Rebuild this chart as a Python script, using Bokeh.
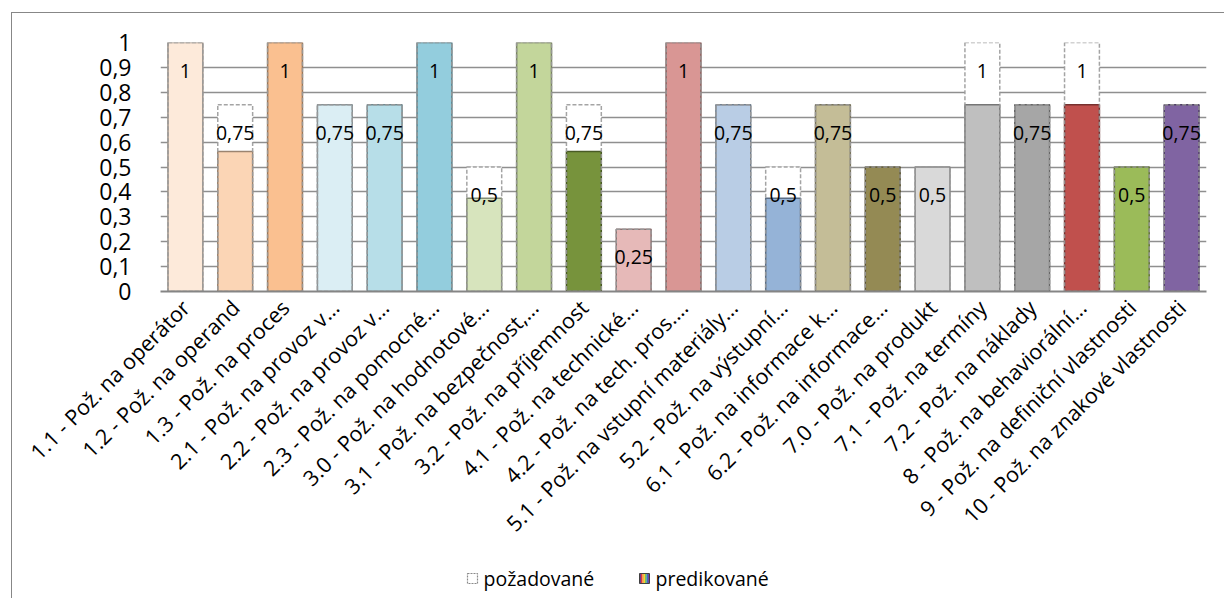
from bokeh.plotting import figure
from bokeh.layouts import column
from bokeh.models import FactorRange, Range1d, FixedTicker, ColumnDataSource
from bokeh.core.properties import value
from bokeh.embed import file_html
from bokeh.resources import INLINE

FONT = "Open Sans"

categories = [
    "1.1 - Pož. na operátor",
    "1.2 - Pož. na operand",
    "1.3 - Pož. na proces",
    "2.1 - Pož. na provoz v…",
    "2.2 - Pož. na provoz v…",
    "2.3 - Pož. na pomocné…",
    "3.0 - Pož. na hodnotové…",
    "3.1 - Pož. na bezpečnost,…",
    "3.2 - Pož. na příjemnost",
    "4.1 - Pož. na technické…",
    "4.2 - Pož. na tech. pros.…",
    "5.1 - Pož. na vstupní materiály…",
    "5.2 - Pož. na výstupní…",
    "6.1 - Pož. na informace k…",
    "6.2 - Pož. na informace…",
    "7.0 - Pož. na produkt",
    "7.1 - Pož. na termíny",
    "7.2 - Pož. na náklady",
    "8 - Pož. na behaviorální…",
    "9 - Pož. na definiční vlastnosti",
    "10 - Pož. na znakové vlastnosti",
]

# required level per requirement
pozadovane = [1, 0.75, 1, 0.75, 0.75, 1, 0.5, 1, 0.75, 0.25, 1,
              0.75, 0.5, 0.75, 0.5, 0.5, 1, 0.75, 1, 0.5, 0.75]

# predicted level per requirement
predikovane = [1, 0.5625, 1, 0.75, 0.75, 1, 0.375, 1, 0.5625, 0.25, 1,
               0.75, 0.375, 0.75, 0.5, 0.5, 0.75, 0.75, 0.75, 0.5, 0.75]

bar_colors = [
    "#FDEADA", "#FBD5B5", "#FAC090", "#DBEEF4", "#B7DEE8", "#93CDDD",
    "#D7E4BD", "#C3D69B", "#77933C", "#E6B9B8", "#D99694", "#B9CDE5",
    "#95B3D7", "#C4BD97", "#948A54", "#D9D9D9", "#BFBFBF", "#A6A6A6",
    "#C0504D", "#9BBB59", "#8064A2",
]

y_ticks = [0, 0.1, 0.2, 0.3, 0.4, 0.5, 0.6, 0.7, 0.8, 0.9, 1]
y_tick_labels = ["0", "0,1", "0,2", "0,3", "0,4", "0,5", "0,6", "0,7", "0,8", "0,9", "1"]

legend_labels = ["požadované", "predikované"]
rainbow = ["#5B2C8F", "#D93A3A", "#F08A2C", "#F2D92A", "#4FAE4A", "#3A6FC4", "#6A3A9E"]


def darker(hex_color, k=0.62):
    r, g, b = (int(hex_color[i:i + 2], 16) for i in (1, 3, 5))
    return "#%02x%02x%02x" % (int(r * k), int(g * k), int(b * k))


def fmt(v):
    return ("%g" % v).replace(".", ",")


src = ColumnDataSource(dict(
    cat=categories,
    req=pozadovane,
    pred=predikovane,
    fill=bar_colors,
    edge=[darker(c) for c in bar_colors],
    lbl=[fmt(v) for v in pozadovane],
))

p = figure(
    x_range=FactorRange(factors=categories, range_padding=0),
    y_range=Range1d(0, 1),
    width=1212, height=547,
    min_border_left=148, min_border_right=18,
    min_border_top=29, min_border_bottom=269,
    output_backend="svg", toolbar_location=None,
)
p.outline_line_color = None
p.background_fill_color = "white"
p.border_fill_color = "white"

p.xgrid.grid_line_color = None
p.ygrid.grid_line_color = "#8f8f8f"
p.ygrid.grid_line_width = 1.5

p.yaxis.ticker = FixedTicker(ticks=y_ticks)
p.yaxis.major_label_overrides = dict(zip(y_ticks, y_tick_labels))
p.yaxis.axis_line_color = None
p.yaxis.major_tick_line_color = None
p.yaxis.minor_tick_line_color = None
p.yaxis.major_label_standoff = 23
p.yaxis.major_label_text_font = FONT
p.yaxis.major_label_text_font_size = "23px"
p.yaxis.major_label_text_color = "black"

p.xaxis.axis_line_color = "#858585"
p.xaxis.axis_line_width = 2
p.xaxis.major_tick_line_color = None
p.xaxis.minor_tick_line_color = None
p.xaxis.major_label_orientation = 0.785398
p.xaxis.major_label_standoff = 6
p.xaxis.major_label_text_font = FONT
p.xaxis.major_label_text_font_size = "21.5px"
p.xaxis.major_label_text_color = "black"

# required level: white box behind
p.vbar(x="cat", top="req", width=0.7, source=src,
       fill_color="white", line_color=None)
# predicted level
p.vbar(x="cat", top="pred", width=0.7, source=src,
       fill_color="fill", line_color="edge", line_width=1.5)
# dashed outline of the required level
p.vbar(x="cat", top="req", width=0.7, source=src,
       fill_color=None, line_color="#9a9a9a", line_width=1.5,
       line_dash="4 2", line_alpha=0.9)

p.text(x="cat", y="req", text="lbl", source=src,
       text_align="center", text_baseline="middle", y_offset=28,
       text_font=value(FONT), text_font_size="19.5px", text_color="black")

# legend row; its frame lines up with the chart frame above (x 160..1206 on the page)
leg = figure(
    x_range=Range1d(160, 1206), y_range=Range1d(0, 38),
    width=1212, height=38, min_border=0,
    x_axis_location=None, y_axis_location=None,
    output_backend="svg", toolbar_location=None,
)
leg.grid.grid_line_color = None
leg.outline_line_color = None

icon_x = [472, 644]
text_x = [483, 655]
icon_w = 10
yc = 20

leg.rect(x=[icon_x[0]], y=[yc], width=icon_w, height=icon_w,
         fill_color="white", line_color="#8a8a8a", line_dash="2 1", line_width=1.2)
stripe_w = icon_w / len(rainbow)
leg.quad(left=[icon_x[1] - icon_w / 2 + i * stripe_w for i in range(len(rainbow))],
         right=[icon_x[1] - icon_w / 2 + (i + 1) * stripe_w for i in range(len(rainbow))],
         bottom=yc - icon_w / 2, top=yc + icon_w / 2,
         fill_color=rainbow, line_color=None)
leg.rect(x=[icon_x[1]], y=[yc], width=icon_w, height=icon_w,
         fill_color=None, line_color="#404040", line_width=1)
leg.text(x=text_x, y=[yc, yc], text=legend_labels,
         text_align="left", text_baseline="middle",
         text_font=value(FONT), text_font_size="19.5px", text_color="black")

layout = column(p, leg, styles={
    "margin-left": "11px", "margin-top": "12px",
    "border-left": "1px solid #878787", "border-top": "1px solid #878787",
})

open("out.html", "w").write(file_html(layout, INLINE))
